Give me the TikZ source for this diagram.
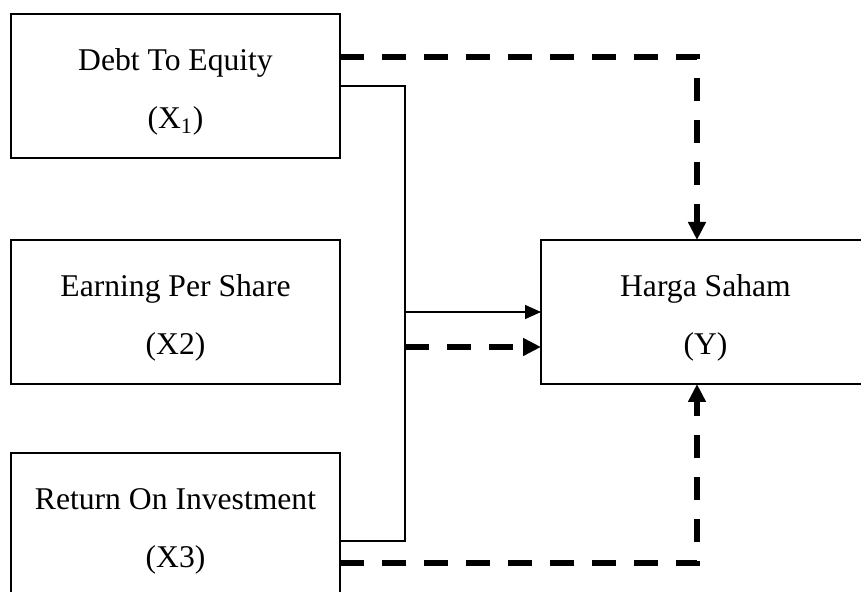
\documentclass[tikz,border=0pt]{standalone}
\usepackage{fontspec}
\setmainfont{Liberation Serif}
\usepackage{tikz}
\usetikzlibrary{arrows.meta, positioning}

\newcommand{\topstrut}{\rule{0pt}{19.5pt}}

\begin{document}
\begin{tikzpicture}[
    font=\fontsize{18}{33}\selectfont,
    node distance=1.64cm and 4.02cm,
    factor/.style={
        draw,
        line width=1.2pt,
        align=center,
        outer sep=0pt,
        minimum width=6.58cm,
        minimum height=2.88cm
    },
    link/.style={draw, line width=0.9pt},
    solidarrow/.style={link, -{Triangle[length=0.32cm, width=0.28cm]}},
    dashlink/.style={draw, line width=3pt, dash pattern=on 0.47cm off 0.37cm},
    dasharrow/.style={dashlink, -{Triangle[length=0.36cm, width=0.34cm]}}
]

\useasboundingbox (0,0) rectangle (17.22,-11.84);
\clip (0,0) rectangle (17.22,-11.84);

\node[factor] (x1) at (3.51,-1.72)
{\topstrut Debt To Equity\\(X\textsubscript{1})};

\node[factor, below=of x1] (x2)
{\topstrut Earning Per Share\\(X2)};

\node[factor, below=1.38cm of x2] (x3)
{\topstrut Return On Investment\\(X3)};

\node[factor, right=of x2] (y)
{\topstrut Harga Saham\\(Y)};

% join points
\coordinate (bus) at ([xshift=1.3cm]x1.east);
\coordinate (x3out) at ([yshift=-0.32cm]x3.east);
\coordinate (yin) at ([yshift=-0.7cm]y.west);
\coordinate (topout) at ([yshift=0.58cm]x1.east);
\coordinate (botout) at ([yshift=-0.76cm]x3.east);
\coordinate (ytop) at ([xshift=-0.17cm]y.north);
\coordinate (ybot) at ([xshift=-0.17cm]y.south);

\draw[link] (x1.east) -| (bus |- x3out) -- (x3out);
\draw[solidarrow] (bus |- y.west) -- (y.west);
\draw[dasharrow] (bus |- yin) -- (yin);

\draw[dasharrow] (topout) -| (ytop);
\draw[dasharrow] (botout) -| (ybot);

\end{tikzpicture}
\end{document}
